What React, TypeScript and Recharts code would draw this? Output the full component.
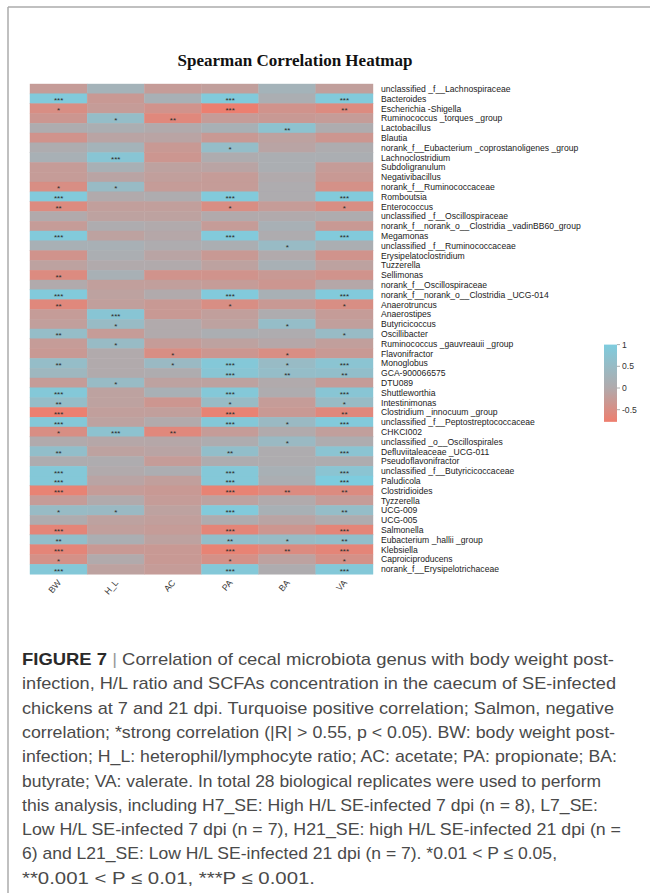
import { BarChart, Bar, XAxis, YAxis } from "recharts";

const variables = ["BW", "H_L", "AC", "PA", "BA", "VA"];

const genera = [
  "unclassified _f__Lachnospiraceae",
  "Bacteroides",
  "Escherichia -Shigella",
  "Ruminococcus _torques _group",
  "Lactobacillus",
  "Blautia",
  "norank_f__Eubacterium _coprostanoligenes _group",
  "Lachnoclostridium",
  "Subdoligranulum",
  "Negativibacillus",
  "norank_f__Ruminococcaceae",
  "Romboutsia",
  "Enterococcus",
  "unclassified _f__Oscillospiraceae",
  "norank_f__norank_o__Clostridia _vadinBB60_group",
  "Megamonas",
  "unclassified _f__Ruminococcaceae",
  "Erysipelatoclostridium",
  "Tuzzerella",
  "Sellimonas",
  "norank_f__Oscillospiraceae",
  "norank_f__norank_o__Clostridia _UCG-014",
  "Anaerotruncus",
  "Anaerostipes",
  "Butyricicoccus",
  "Oscillibacter",
  "Ruminococcus _gauvreauii _group",
  "Flavonifractor",
  "Monoglobus",
  "GCA-900066575",
  "DTU089",
  "Shuttleworthia",
  "Intestinimonas",
  "Clostridium _innocuum _group",
  "unclassified _f__Peptostreptococcaceae",
  "CHKCI002",
  "unclassified _o__Oscillospirales",
  "Defluviitaleaceae _UCG-011",
  "Pseudoflavonifractor",
  "unclassified _f__Butyricicoccaceae",
  "Paludicola",
  "Clostridioides",
  "Tyzzerella",
  "UCG-009",
  "UCG-005",
  "Salmonella",
  "Eubacterium _hallii _group",
  "Klebsiella",
  "Caproiciproducens",
  "norank_f__Erysipelotrichaceae",
];

// spearman r per genus, one list per variable (same order as genera)
const rBW = [
  -0.25, 0.93, -0.5, -0.35, 0.06, -0.4, 0.06, 0.18, -0.25, -0.25,
  -0.5, 0.93, -0.55, 0.0, -0.25, 0.93, 0.18, -0.4, -0.15, -0.55,
  0.0, 0.93, -0.6, -0.25, -0.2, 0.55, -0.25, -0.3, 0.55, 0.38,
  -0.25, 0.88, 0.55, -0.75, 0.88, -0.5, 0.0, 0.6, 0.06, 0.88,
  0.88, -0.7, -0.25, 0.5, 0.06, -0.65, 0.6, -0.65, -0.45, 0.88,
];
const rHL = [
  0.25, -0.3, -0.25, 0.55, 0.12, -0.1, 0.25, 0.8, 0.18, -0.1,
  0.5, 0.0, -0.2, -0.15, 0.06, -0.15, 0.18, 0.12, 0.0, 0.18,
  -0.2, -0.15, -0.2, 0.8, 0.5, -0.25, 0.5, 0.0, 0.0, 0.0,
  0.5, -0.15, -0.15, -0.2, -0.15, 0.7, -0.05, -0.15, 0.06, 0.0,
  -0.1, -0.25, 0.0, 0.45, -0.15, -0.2, 0.12, -0.3, 0.0, -0.15,
];
const rAC = [
  -0.25, 0.18, -0.4, -0.6, 0.0, -0.1, -0.3, -0.35, -0.15, -0.2,
  -0.25, 0.06, -0.2, -0.15, 0.0, -0.05, 0.06, -0.1, 0.0, -0.4,
  -0.2, 0.0, -0.3, -0.3, 0.0, 0.0, -0.25, -0.5, 0.45, 0.06,
  -0.15, 0.18, -0.35, -0.2, 0.0, -0.6, -0.05, -0.1, -0.25, 0.1,
  -0.2, -0.3, -0.25, -0.15, -0.2, -0.25, -0.15, -0.3, -0.3, -0.25,
];
const rPA = [
  -0.2, 0.93, -0.76, -0.25, 0.18, -0.3, 0.55, 0.06, -0.1, -0.25,
  -0.25, 0.93, -0.5, 0.0, -0.25, 0.93, 0.12, -0.3, -0.15, -0.4,
  -0.25, 0.93, -0.5, -0.2, -0.15, 0.12, -0.15, -0.35, 0.88, 0.8,
  -0.15, 0.88, 0.5, -0.7, 0.88, -0.25, 0.06, 0.6, 0.06, 0.88,
  0.88, -0.7, -0.15, 0.93, 0.06, -0.65, 0.6, -0.7, -0.45, 0.88,
];
const rBA = [
  0.25, 0.12, -0.4, -0.3, 0.7, -0.15, -0.1, 0.12, 0.12, 0.0,
  0.06, 0.06, -0.25, 0.0, 0.18, 0.06, 0.5, 0.0, 0.18, -0.3,
  -0.35, 0.18, -0.3, 0.06, 0.55, 0.06, -0.05, -0.5, 0.5, 0.55,
  0.0, 0.06, -0.25, -0.3, 0.45, 0.0, 0.45, 0.06, 0.06, 0.18,
  0.12, -0.55, 0.0, 0.18, -0.1, -0.35, 0.5, -0.55, -0.15, 0.06,
];
const rVA = [
  -0.2, 0.93, -0.55, -0.25, 0.06, -0.35, 0.06, 0.12, -0.25, -0.3,
  -0.45, 0.93, -0.5, 0.06, -0.3, 0.93, 0.12, -0.4, -0.15, -0.4,
  -0.05, 0.93, -0.5, -0.25, -0.2, 0.5, -0.2, -0.3, 0.75, 0.6,
  -0.25, 0.8, 0.5, -0.6, 0.93, -0.2, 0.06, 0.75, 0.06, 0.75,
  1.0, -0.55, -0.25, 0.55, 0.06, -0.65, 0.6, -0.65, -0.45, 0.88,
];

// significance marks
const sigBW = [
  "", "***", "*", "", "", "", "", "", "", "",
  "*", "***", "**", "", "", "***", "", "", "", "**",
  "", "***", "**", "", "", "**", "", "", "**", "",
  "", "***", "**", "***", "***", "*", "", "**", "", "***",
  "***", "***", "", "*", "", "***", "**", "***", "*", "***",
];
const sigHL = [
  "", "", "", "*", "", "", "", "***", "", "",
  "*", "", "", "", "", "", "", "", "", "",
  "", "", "", "***", "*", "", "*", "", "", "",
  "*", "", "", "", "", "***", "", "", "", "",
  "", "", "", "*", "", "", "", "", "", "",
];
const sigAC = [
  "", "", "", "**", "", "", "", "", "", "",
  "", "", "", "", "", "", "", "", "", "",
  "", "", "", "", "", "", "", "*", "*", "",
  "", "", "", "", "", "**", "", "", "", "",
  "", "", "", "", "", "", "", "", "", "",
];
const sigPA = [
  "", "***", "***", "", "", "", "*", "", "", "",
  "", "***", "*", "", "", "***", "", "", "", "",
  "", "***", "*", "", "", "", "", "", "***", "***",
  "", "***", "*", "***", "***", "", "", "**", "", "***",
  "***", "***", "", "***", "", "***", "**", "***", "*", "***",
];
const sigBA = [
  "", "", "", "", "**", "", "", "", "", "",
  "", "", "", "", "", "", "*", "", "", "",
  "", "", "", "", "*", "", "", "*", "*", "**",
  "", "", "", "", "*", "", "*", "", "", "",
  "", "**", "", "", "", "", "*", "**", "", "",
];
const sigVA = [
  "", "***", "**", "", "", "", "", "", "", "",
  "", "***", "*", "", "", "***", "", "", "", "",
  "", "***", "*", "", "", "*", "", "", "***", "**",
  "", "***", "*", "**", "***", "", "", "***", "", "***",
  "***", "**", "", "**", "", "***", "**", "***", "*", "***",
];

const colorbarTicks = [1, 0.5, 0, -0.5];
const colorMin = -0.78;
const colorMax = 1;

const captionLines = [
  "infection, H/L ratio and SCFAs concentration in the caecum of SE-infected",
  "chickens at 7 and 21 dpi. Turquoise positive correlation; Salmon, negative",
  "correlation; *strong correlation (|R| > 0.55, p < 0.05). BW: body weight post-",
  "infection; H_L: heterophil/lymphocyte ratio; AC: acetate; PA: propionate; BA:",
  "butyrate; VA: valerate. In total 28 biological replicates were used to perform",
  "this analysis, including H7_SE: High H/L SE-infected 7 dpi (n = 8), L7_SE:",
  "Low H/L SE-infected 7 dpi (n = 7), H21_SE: high H/L SE-infected 21 dpi (n =",
  "6) and L21_SE: Low H/L SE-infected 21 dpi (n = 7). *0.01 < P \u2264 0.05,",
  "**0.001 < P \u2264 0.01, ***P \u2264 0.001.",
];
const captionEnds = [616, 614, 615, 617, 601, 598, 621, 557, 315];

const matrix = [rBW, rHL, rAC, rPA, rBA, rVA];
const marks = [sigBW, sigHL, sigAC, sigPA, sigBA, sigVA];

const rows = genera.map((name) => {
  const row: Record<string, string | number> = { name };
  variables.forEach((_, c) => {
    row[`t${c}`] = 1;
  });
  return row;
});

const TURQ = [126, 204, 222];
const GREY = [177, 170, 172];
const SALMON = [238, 126, 110];

const mix = (a: number[], b: number[], t: number) =>
  a.map((v, i) => Math.round(v + (b[i] - v) * t));

const heatColor = (r: number) => {
  const c =
    r >= 0
      ? mix(GREY, TURQ, Math.min(r / colorMax, 1))
      : mix(GREY, SALMON, Math.min(r / colorMin, 1));
  return `rgb(${c.join(",")})`;
};

const FONT = "'Liberation Sans', Arial, sans-serif";

const HeatCell = (props: any) => {
  const { x, y, width, height, index, col } = props;
  const fill = heatColor(matrix[col][index]);
  const stars = marks[col][index];
  return (
    <g>
      <rect x={x} y={y} width={width} height={height} fill={fill} stroke={fill} strokeWidth={0.4} />
      {stars && (
        <text
          x={x + width / 2}
          y={y + height / 2 + 4.4}
          textAnchor="middle"
          fontSize={8}
          fontFamily={FONT}
          fill="#2b2b2b"
        >
          {stars}
        </text>
      )}
    </g>
  );
};

const GenusTick = ({ x, y, payload }: any) => (
  <text x={x} y={y} dy="0.35em" textAnchor="start" fontSize={8.6} fontFamily={FONT} fill="#222">
    {payload.value}
  </text>
);

const VariableTick = ({ x, y, payload }: any) => (
  <text
    transform={`translate(${x + 3},${y + 1}) rotate(-50)`}
    textAnchor="end"
    fontSize={8.8}
    fontFamily={FONT}
    fill="#3a3a3a"
  >
    {variables[Math.floor(payload.value)]}
  </text>
);

// colour bar geometry
const cbX = 604;
const cbW = 13;
const cbZero = 388;
const cbUnit = 43.4;
const cbY = (v: number) => cbZero - v * cbUnit;

export default function App() {
  return (
    <div style={{ position: "absolute", left: 0, top: 0, width: 650, height: 893, background: "#fff", overflow: "hidden" }}>
      <div style={{ position: "absolute", left: 0, top: 0 }}>
        <BarChart
          width={650}
          height={620}
          layout="vertical"
          data={rows}
          margin={{ top: 84, right: 37, bottom: 6, left: 30 }}
          barCategoryGap={0}
          barGap={0}
        >
          <XAxis
            type="number"
            domain={[0, variables.length]}
            ticks={variables.map((_, i) => i + 0.5)}
            height={40}
            axisLine={false}
            tickLine={false}
            tick={<VariableTick />}
            interval={0}
          />
          <YAxis
            type="category"
            dataKey="name"
            orientation="right"
            width={240}
            interval={0}
            axisLine={false}
            tickLine={false}
            tick={<GenusTick />}
          />
          {variables.map((v, c) => (
            <Bar
              key={v}
              dataKey={`t${c}`}
              stackId="grid"
              isAnimationActive={false}
              shape={(p: any) => <HeatCell {...p} col={c} />}
            />
          ))}
        </BarChart>
      </div>
      <svg
        width={650}
        height={893}
        style={{ position: "absolute", left: 0, top: 0, pointerEvents: "none" }}
      >
        <defs>
          <linearGradient id="cb" x1="0" y1="0" x2="0" y2="1">
            <stop offset="0" stopColor={heatColor(colorMax)} />
            <stop
              offset={String(colorMax / (colorMax - colorMin))}
              stopColor={heatColor(0)}
            />
            <stop offset="1" stopColor={heatColor(colorMin)} />
          </linearGradient>
        </defs>
        <line x1={8} y1={7} x2={650} y2={7} stroke="#ababab" strokeWidth={1.5} />
        <line x1={8} y1={7} x2={8} y2={893} stroke="#ababab" strokeWidth={1.5} />
        <text
          x={295}
          y={66}
          textAnchor="middle"
          fontSize={17}
          fontWeight="bold"
          fontFamily="'Liberation Serif', 'Times New Roman', serif"
          fill="#111"
        >
          Spearman Correlation Heatmap
        </text>
        <rect x={cbX} y={cbY(colorMax)} width={cbW} height={cbY(colorMin) - cbY(colorMax)} fill="url(#cb)" />
        {colorbarTicks.map((t) => (
          <g key={t}>
            <line x1={cbX + cbW} x2={cbX + cbW + 3} y1={cbY(t)} y2={cbY(t)} stroke="#999" strokeWidth={0.8} />
            <text x={cbX + cbW + 5} y={cbY(t)} dy="0.35em" fontSize={8.6} fontFamily={FONT} fill="#333">
              {t}
            </text>
          </g>
        ))}
        <text
          x={22}
          y={665}
          fontSize={17}
          fontFamily={FONT}
          fill="#4a4a4a"
          textLength={614 - 22}
          lengthAdjust="spacingAndGlyphs"
        >
          <tspan fontWeight="bold" fill="#2a2a2a">FIGURE 7</tspan>
          <tspan fill="#999"> | </tspan>
          <tspan>Correlation of cecal microbiota genus with body weight post-</tspan>
        </text>
        {captionLines.map((line, i) => (
          <text
            key={i}
            x={22}
            y={665 + (i + 1) * 24.3}
            fontSize={17}
            fontFamily={FONT}
            fill="#4a4a4a"
            textLength={captionEnds[i] - 22}
            lengthAdjust="spacingAndGlyphs"
          >
            {line}
          </text>
        ))}
      </svg>
    </div>
  );
}
